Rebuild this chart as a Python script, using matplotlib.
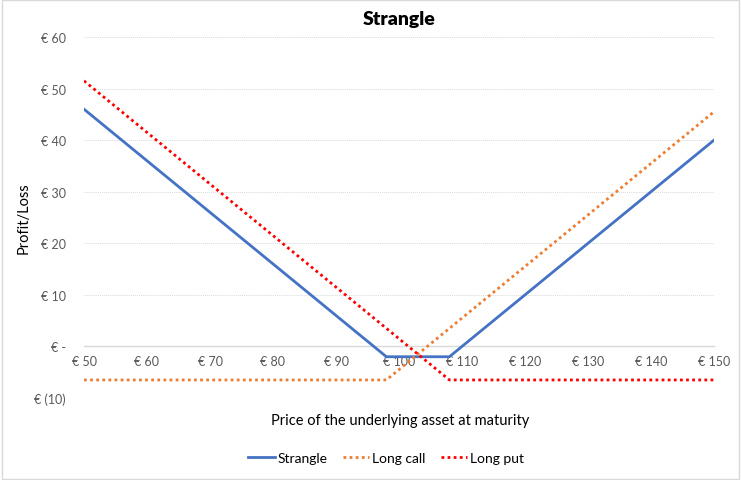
import matplotlib.pyplot as plt
from matplotlib.patches import Rectangle

# %% data (vertices of each payoff line)
strangle_x = [50, 98, 108, 150]
strangle_y = [46, -2, -2, 40]
call_x = [50, 98, 150]
call_y = [-6.5, -6.5, 45.5]
put_x = [50, 108, 150]
put_y = [51.5, -6.5, -6.5]

x_ticks = [50, 60, 70, 80, 90, 100, 110, 120, 130, 140, 150]
x_labels = ['€ 50', '€ 60', '€ 70', '€ 80', '€ 90', '€ 100', '€ 110',
            '€ 120', '€ 130', '€ 140', '€ 150']
y_ticks = [-10, 0, 10, 20, 30, 40, 50, 60]
y_labels = ['€ (10)', '€ -', '€ 10', '€ 20', '€ 30', '€ 40', '€ 50', '€ 60']

plt.rcParams['font.family'] = ['Lato', 'DejaVu Sans']

# %% plot
fig = plt.figure(figsize=(7.41, 4.81), dpi=100)
ax = fig.add_axes([84 / 741, 1 - 399 / 481, 630 / 741, 361 / 481])

ax.plot(strangle_x, strangle_y, color='#4472C4', lw=2, label='Strangle', zorder=3)
ax.plot(call_x, call_y, color='#ED7D31', lw=2, ls=(0, (1, 1.2)), label='Long call', zorder=3)
ax.plot(put_x, put_y, color='#FF0000', lw=2, ls=(0, (1, 1.2)), label='Long put', zorder=3)

ax.set_xlim(50, 150)
ax.set_ylim(-10, 60)

# gridlines (zero line is the axis itself)
for yv in y_ticks:
    if yv != 0:
        ax.axhline(yv, color='#D9D9D9', lw=0.7, ls=(0, (1, 1)), zorder=1)

for s in ['top', 'right', 'left']:
    ax.spines[s].set_visible(False)
ax.spines['bottom'].set_position(('data', 0))
ax.spines['bottom'].set_color('#D9D9D9')
ax.spines['bottom'].set_linewidth(1)

ax.set_xticks(x_ticks)
ax.set_xticklabels(x_labels)
ax.set_yticks(y_ticks)
ax.set_yticklabels(y_labels)
ax.tick_params(axis='both', length=0, labelsize=9, labelcolor='#595959')
ax.tick_params(axis='x', pad=6)
ax.tick_params(axis='y', pad=13)

fig.text(0.5 * (84 + 714) / 741, 1 - 19 / 481, 'Strangle', ha='center', va='center',
         fontsize=14, fontweight='heavy')
fig.text(400 / 741, 1 - 421 / 481, 'Price of the underlying asset at maturity',
         ha='center', va='center', fontsize=10.5)
fig.text(24 / 741, 1 - 218 / 481, 'Profit/Loss', ha='center', va='center',
         rotation=90, fontsize=10.5)

fig.legend(loc='center', bbox_to_anchor=(386 / 741, 1 - 459 / 481), ncol=3,
           frameon=False, fontsize=10, handlelength=1.9, columnspacing=1.1,
           handletextpad=0.2)

# light border around the chart area
fig.patches.append(Rectangle((0.003, 0.003), 0.994, 0.994, transform=fig.transFigure,
                             fill=False, edgecolor='#D9D9D9', lw=1))

fig.savefig('out.png', dpi=100)
